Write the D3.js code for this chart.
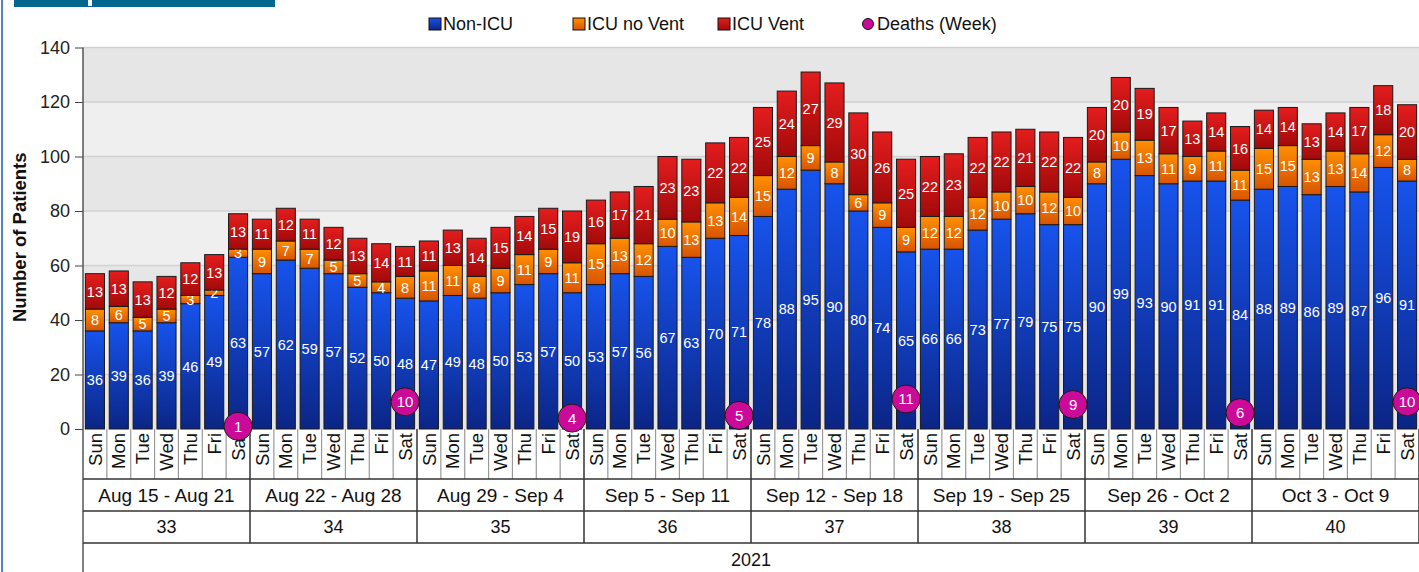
<!DOCTYPE html>
<html>
<head>
<meta charset="utf-8">
<script src="https://cdn.jsdelivr.net/npm/d3@7"></script>
<style>
  body { margin: 0; background: #fff; overflow: hidden; }
  svg { display: block; font-family: "Liberation Sans", Arial, sans-serif; }
</style>
</head>
<body>
<svg id="chart"></svg>
<script>
// ---- data ----
const days = ["Sun", "Mon", "Tue", "Wed", "Thu", "Fri", "Sat"];
const weeks = [33, 34, 35, 36, 37, 38, 39, 40];
const weekRanges = ["Aug 15 - Aug 21", "Aug 22 - Aug 28", "Aug 29 - Sep 4", "Sep 5 - Sep 11",
                    "Sep 12 - Sep 18", "Sep 19 - Sep 25", "Sep 26 - Oct 2", "Oct 3 - Oct 9"];
const yearLabel = "2021";

const nonICU = [36, 39, 36, 39, 46, 49, 63,
                57, 62, 59, 57, 52, 50, 48,
                47, 49, 48, 50, 53, 57, 50,
                53, 57, 56, 67, 63, 70, 71,
                78, 88, 95, 90, 80, 74, 65,
                66, 66, 73, 77, 79, 75, 75,
                90, 99, 93, 90, 91, 91, 84,
                88, 89, 86, 89, 87, 96, 91];
const icuNoVent = [8, 6, 5, 5, 3, 2, 3,
                   9, 7, 7, 5, 5, 4, 8,
                   11, 11, 8, 9, 11, 9, 11,
                   15, 13, 12, 10, 13, 13, 14,
                   15, 12, 9, 8, 6, 9, 9,
                   12, 12, 12, 10, 10, 12, 10,
                   8, 10, 13, 11, 9, 11, 11,
                   15, 15, 13, 13, 14, 12, 8];
const icuVent = [13, 13, 13, 12, 12, 13, 13,
                 11, 12, 11, 12, 13, 14, 11,
                 11, 13, 14, 15, 14, 15, 19,
                 16, 17, 21, 23, 23, 22, 22,
                 25, 24, 27, 29, 30, 26, 25,
                 22, 23, 22, 22, 21, 22, 22,
                 20, 20, 19, 17, 13, 14, 16,
                 14, 14, 13, 14, 17, 18, 20];
const deathsWeek = [1, 10, 4, 5, 11, 9, 6, 10];

const seriesKeys = ["nonICU", "icuNoVent", "icuVent"];
const seriesNames = ["Non-ICU", "ICU no Vent", "ICU Vent"];

// table for the stack
const rows = nonICU.map((v, i) => ({
  idx: i, nonICU: v, icuNoVent: icuNoVent[i], icuVent: icuVent[i]
}));

// ---- layout ----
const W = 1419, H = 572;
const plotL = 83, plotR = 1419, plotT = 47.5, plotB = 429;
const rowDay = 479, rowRange = 511, rowWeek = 543;

const svg = d3.select("#chart").attr("width", W).attr("height", H);

const x = d3.scaleBand()
  .domain(d3.range(rows.length))
  .range([plotL, plotR])
  .paddingInner(0.2)
  .paddingOuter(0.1);
const step = x.step();
const cellX = i => plotL + i * step; // start of the category cell

const y = d3.scaleLinear().domain([0, 140]).range([plotB, plotT]);
const yTicks = d3.range(0, 141, 20);

// gradients
const defs = svg.append("defs");
const grads = {
  nonICU: ["#1753ec", "#0b2585"],
  icuNoVent: ["#ff9000", "#d85400"],
  icuVent: ["#e41d1d", "#a20a0a"]
};
Object.entries(grads).forEach(([k, c]) => {
  const g = defs.append("linearGradient").attr("id", "g-" + k)
    .attr("x1", 0).attr("y1", 0).attr("x2", 0).attr("y2", 1);
  g.append("stop").attr("offset", "0%").attr("stop-color", c[0]);
  g.append("stop").attr("offset", "100%").attr("stop-color", c[1]);
});

// header strip + page border
svg.append("rect").attr("x", 14).attr("y", 0).attr("width", 261).attr("height", 7).attr("fill", "#02678f");
svg.append("rect").attr("x", 88).attr("y", 0).attr("width", 4).attr("height", 6).attr("fill", "#fff");
svg.append("line").attr("x1", 2).attr("x2", 2).attr("y1", 0).attr("y2", H)
  .attr("stroke", "#4f86c6").attr("stroke-width", 2);

// plot background with alternating bands
const bands = d3.pairs(yTicks);
svg.append("g").selectAll("rect").data(bands).join("rect")
  .attr("x", plotL).attr("width", plotR - plotL)
  .attr("y", d => y(d[1])).attr("height", d => y(d[0]) - y(d[1]))
  .attr("fill", (d, i) => i % 2 === 0 ? "#e6e6e6" : "#efefef");

svg.append("g").selectAll("line").data(yTicks.slice(1)).join("line")
  .attr("x1", plotL).attr("x2", plotR)
  .attr("y1", d => y(d)).attr("y2", d => y(d))
  .attr("stroke", "#d2d2d2").attr("stroke-width", 1.5);

// stacked bars
const stacked = d3.stack().keys(seriesKeys)(rows);
const layer = svg.append("g").selectAll("g").data(stacked).join("g")
  .attr("fill", d => `url(#g-${d.key})`);

layer.selectAll("rect").data(d => d).join("rect")
  .attr("x", d => x(d.data.idx))
  .attr("width", x.bandwidth())
  .attr("y", d => y(d[1]))
  .attr("height", d => y(d[0]) - y(d[1]))
  .attr("stroke", "#1a1a1a")
  .attr("stroke-width", 1);

layer.selectAll("text").data(d => d).join("text")
  .attr("x", d => x(d.data.idx) + x.bandwidth() / 2)
  .attr("y", d => (y(d[0]) + y(d[1])) / 2)
  .attr("dy", "0.36em")
  .attr("text-anchor", "middle")
  .attr("fill", "#fff")
  .style("font-size", "14.5px")
  .text(d => d[1] - d[0]);

// y axis
const yAxis = svg.append("g")
  .attr("transform", `translate(${plotL},0)`)
  .call(d3.axisLeft(y).tickValues(yTicks).tickSize(8).tickPadding(5).tickSizeOuter(0));
yAxis.selectAll("text").style("font-size", "18px").attr("fill", "#222");
yAxis.selectAll("line").attr("stroke", "#444");
yAxis.select(".domain").remove();

svg.append("line").attr("x1", plotL).attr("x2", plotL).attr("y1", plotT).attr("y2", H)
  .attr("stroke", "#555").attr("stroke-width", 1.5);

svg.append("text")
  .attr("transform", `translate(26,${(plotT + plotB) / 2 - 1}) rotate(-90)`)
  .attr("text-anchor", "middle")
  .style("font-size", "18.5px").style("font-weight", "bold").attr("fill", "#111")
  .text("Number of Patients");

// category axis: day cells
const dayCells = svg.append("g");
dayCells.selectAll("line").data(d3.range(1, rows.length + 1)).join("line")
  .attr("x1", i => cellX(i)).attr("x2", i => cellX(i))
  .attr("y1", plotB).attr("y2", rowDay)
  .attr("stroke", i => i % 7 === 0 ? "#333" : "#999")
  .attr("stroke-width", i => i % 7 === 0 ? 1.5 : 1.2);
dayCells.selectAll("text").data(rows).join("text")
  .attr("transform", d => `translate(${x(d.idx) + x.bandwidth() / 2},${plotB + 4}) rotate(-90)`)
  .attr("dy", "0.36em")
  .attr("text-anchor", "end")
  .style("font-size", "18.5px").attr("fill", "#111")
  .text(d => days[d.idx % 7]);

// week rows
const weekG = svg.append("g");
[rowDay, rowRange, rowWeek].forEach(yy => {
  weekG.append("line").attr("x1", plotL).attr("x2", plotR).attr("y1", yy).attr("y2", yy)
    .attr("stroke", "#333").attr("stroke-width", 1.5);
});
weekG.selectAll(".wsep").data(d3.range(1, weeks.length + 1)).join("line")
  .attr("class", "wsep")
  .attr("x1", i => cellX(i * 7)).attr("x2", i => cellX(i * 7))
  .attr("y1", rowDay).attr("y2", rowWeek)
  .attr("stroke", "#333").attr("stroke-width", 1.5);
weekG.selectAll(".wrange").data(weekRanges).join("text")
  .attr("class", "wrange")
  .attr("x", (d, i) => cellX(i * 7 + 3.5))
  .attr("y", (rowDay + rowRange) / 2)
  .attr("dy", "0.36em").attr("text-anchor", "middle")
  .style("font-size", "19px").attr("fill", "#111")
  .text(d => d);
weekG.selectAll(".wnum").data(weeks).join("text")
  .attr("class", "wnum")
  .attr("x", (d, i) => cellX(i * 7 + 3.5))
  .attr("y", (rowRange + rowWeek) / 2)
  .attr("dy", "0.36em").attr("text-anchor", "middle")
  .style("font-size", "18px").attr("fill", "#111")
  .text(d => d);
svg.append("text")
  .attr("x", (plotL + plotR) / 2).attr("y", 560)
  .attr("dy", "0.36em").attr("text-anchor", "middle")
  .style("font-size", "18px").attr("fill", "#111")
  .text(yearLabel);

// deaths per week, on the Saturday of each week
const dG = svg.append("g").selectAll("g").data(deathsWeek).join("g")
  .attr("transform", (d, i) => `translate(${x(i * 7 + 6) + x.bandwidth() / 2},${y(d)})`);
dG.append("circle").attr("r", 14)
  .attr("fill", "#cc0a99").attr("stroke", "#1a1a1a").attr("stroke-width", 1);
dG.append("text").attr("dy", "0.36em").attr("text-anchor", "middle")
  .attr("fill", "#fff").style("font-size", "15px")
  .text(d => d);

// legend
const legendX = [429, 573, 718, 862];
const legendItems = seriesNames.concat(["Deaths (Week)"]);
const lg = svg.append("g").selectAll("g").data(legendItems).join("g")
  .attr("transform", (d, i) => `translate(${legendX[i]},24)`);
lg.filter((d, i) => i < 3).append("rect")
  .attr("x", 0).attr("y", -6).attr("width", 12).attr("height", 12)
  .attr("fill", (d, i) => `url(#g-${seriesKeys[i]})`)
  .attr("stroke", "#111").attr("stroke-width", 1);
lg.filter((d, i) => i === 3).append("circle")
  .attr("cx", 6).attr("cy", 0).attr("r", 5.5)
  .attr("fill", "#cc0a99").attr("stroke", "#111").attr("stroke-width", 1);
lg.append("text").attr("x", (d, i) => i === 3 ? 15 : 14).attr("dy", "0.36em")
  .style("font-size", "18px").attr("fill", "#111")
  .text(d => d);
</script>
</body>
</html>
